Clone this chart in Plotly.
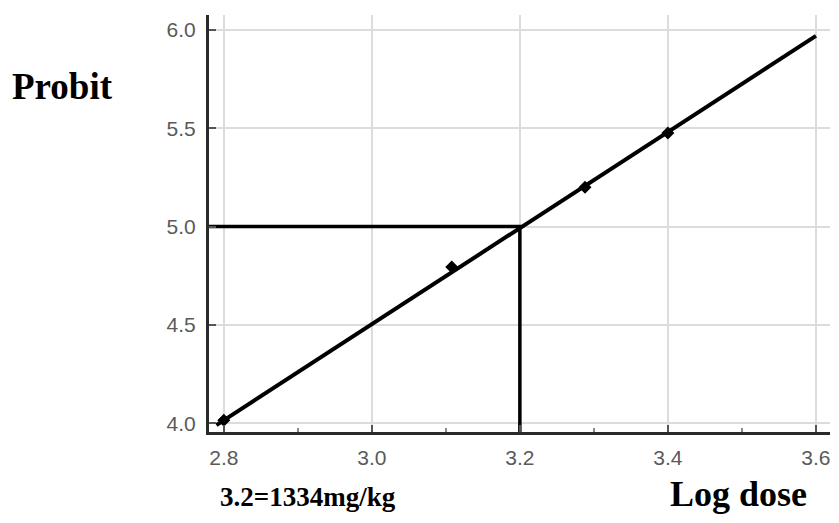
import plotly.graph_objects as go

# Data
obs_logdose = [2.80, 3.108, 3.288, 3.40]
obs_probit = [4.015, 4.794, 5.20, 5.476]
fit_logdose = [2.79, 3.60]
fit_probit = [3.99, 5.97]
ld50_logdose = 3.2
ld50_probit = 5.0
x_ticks = [2.8, 3.0, 3.2, 3.4, 3.6]
y_ticks = [4.0, 4.5, 5.0, 5.5, 6.0]
x_range = [2.78, 3.619]
y_range = [3.955, 6.076]

# page offset (browser body margin)
OFF = 8
W, H = 829, 507
L, T = 209 - OFF, 15 - OFF
R = W - (830 - OFF)
B = H - (432 - OFF)
pw, ph = W - L - R, H - T - B


def px(xp, yp):
    xf, yf = xp - OFF, yp - OFF
    return (xf - L) / pw, (H - yf - B) / ph


fig = go.Figure()
fig.add_trace(go.Scatter(x=fit_logdose, y=fit_probit, mode="lines",
                         line=dict(color="black", width=4), hoverinfo="skip"))
fig.add_trace(go.Scatter(x=[x_range[0], ld50_logdose, ld50_logdose],
                         y=[ld50_probit, ld50_probit, y_range[0]], mode="lines",
                         line=dict(color="black", width=3.5), hoverinfo="skip"))
fig.add_trace(go.Scatter(x=obs_logdose, y=obs_probit, mode="markers",
                         marker=dict(symbol="diamond", size=10, color="black")))

tickfont = dict(family="Liberation Sans, Arial", size=21, color="#5a5a5a")
fig.update_xaxes(range=x_range, tickvals=x_ticks, ticktext=[f"{v:.1f}" for v in x_ticks],
                 showgrid=True, gridcolor="#dcdcdc", gridwidth=1.5,
                 showline=True, linecolor="#2a2a2a", linewidth=3,
                 ticks="inside", ticklen=7, tickcolor="#555555", tickwidth=1.5,
                 minor=dict(tickvals=[2.9, 3.1, 3.3, 3.5], ticks="inside", ticklen=4,
                            tickcolor="#888888", showgrid=False),
                 tickfont=tickfont, zeroline=False, automargin=False,
                 ticklabelstandoff=5)
fig.update_yaxes(range=y_range, tickvals=y_ticks, ticktext=[f"{v:.1f}" for v in y_ticks],
                 showgrid=True, gridcolor="#dcdcdc", gridwidth=1.5,
                 showline=True, linecolor="#2a2a2a", linewidth=3,
                 ticks="inside", ticklen=7, tickcolor="#555555", tickwidth=1.5,
                 tickfont=tickfont, zeroline=False, automargin=False,
                 ticklabelstandoff=6)

serif = "Liberation Serif, Times New Roman, serif"
for text, xp, yp, size in [("<b>Probit</b>", 62, 86, 37),
                           ("<b>Log dose</b>", 738, 494, 36),
                           ("<b>3.2=1334mg/kg</b>", 308, 497, 27)]:
    ax_, ay_ = px(xp, yp)
    fig.add_annotation(text=text, x=ax_, y=ay_, xref="paper", yref="paper",
                       showarrow=False, xanchor="center", yanchor="middle",
                       font=dict(family=serif, size=size, color="black"))

fig.update_layout(width=W, height=H, margin=dict(l=L, r=R, t=T, b=B),
                  plot_bgcolor="white", paper_bgcolor="white", showlegend=False)
fig.write_html("out.html")
